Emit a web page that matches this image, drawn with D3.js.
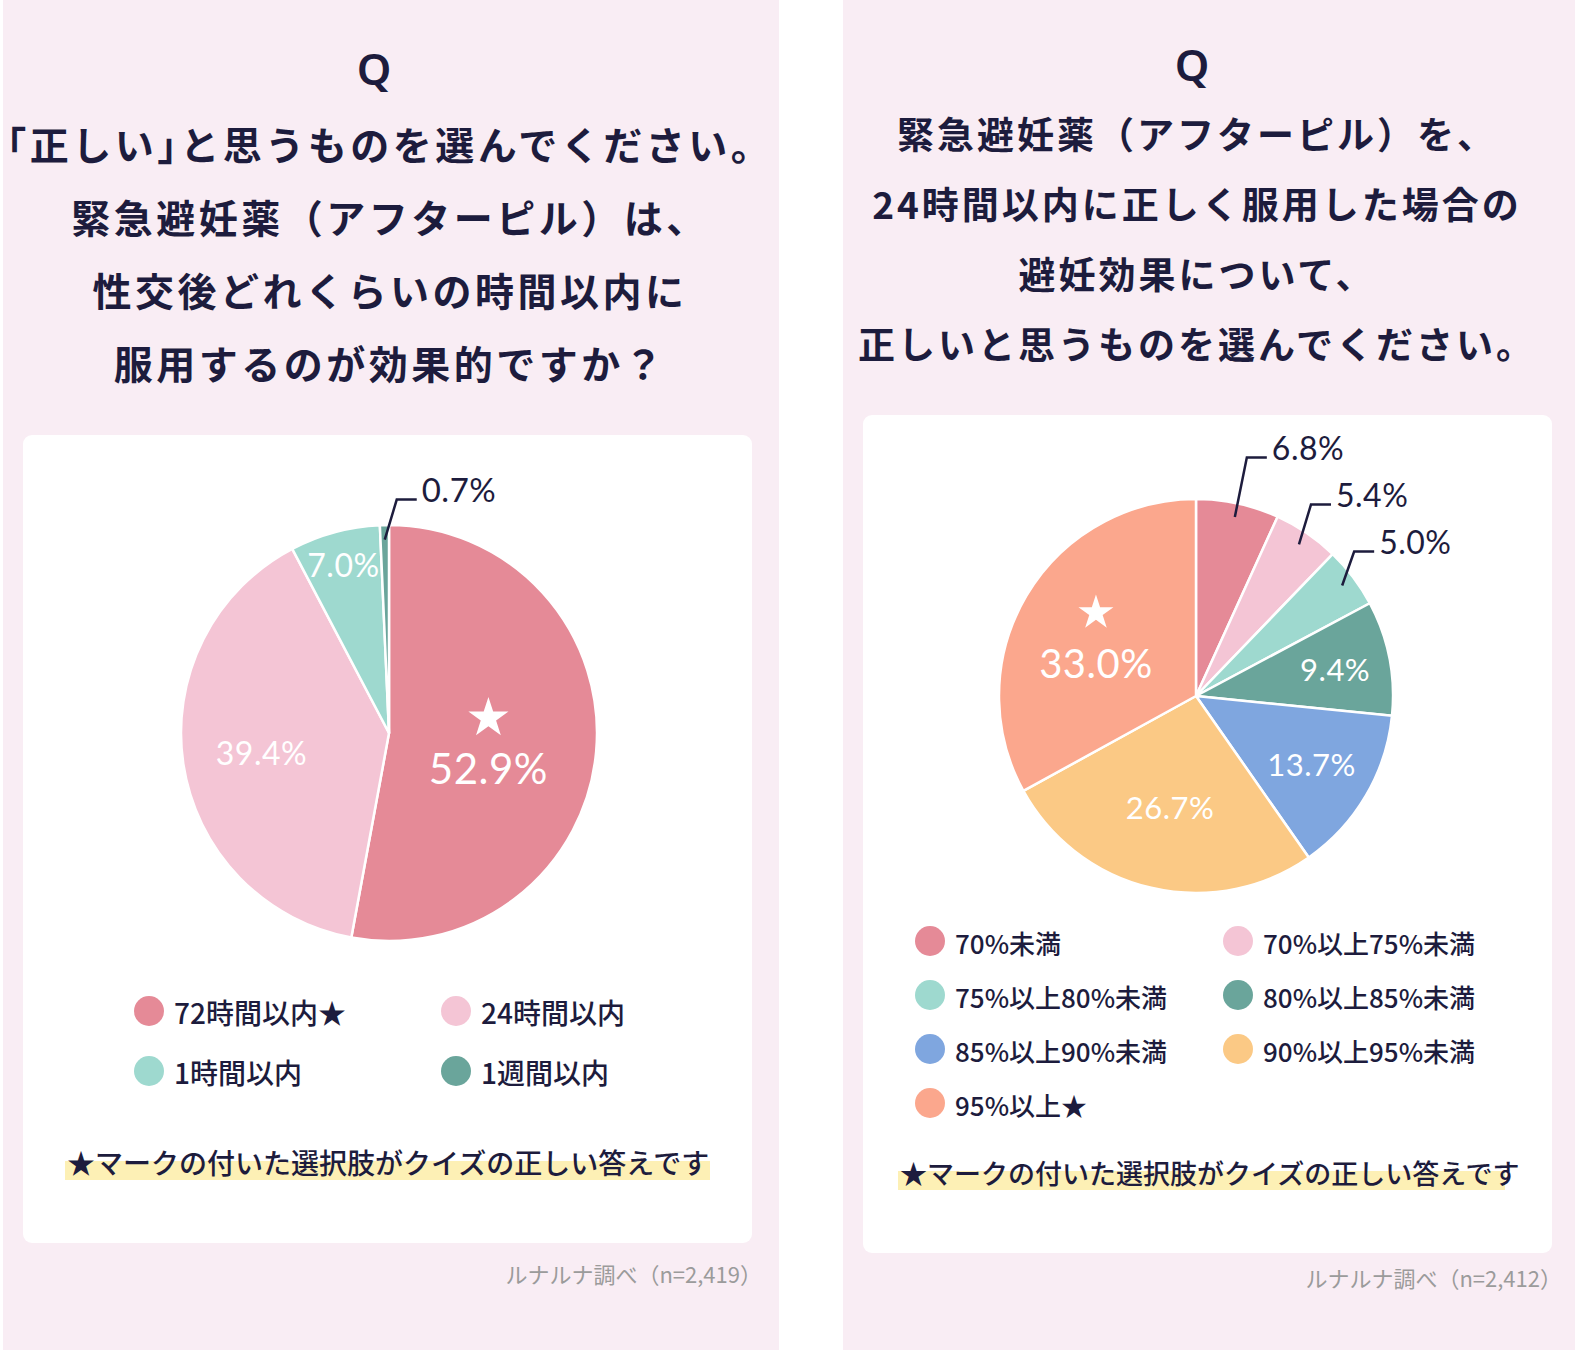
<!DOCTYPE html>
<html>
<head>
<meta charset="utf-8">
<script src="https://cdn.jsdelivr.net/npm/d3@7"></script>
<style>
  body { margin: 0; background: #fff; }
  svg { display: block; }
  .half { font-feature-settings: "halt"; }
</style>
</head>
<body>
<svg id="chart" width="1575" height="1350"></svg>
<script>
// ---- data ----
const leftTitle = [
  "「正しい」と思うものを選んでください。",
  "緊急避妊薬（アフターピル）は、",
  "性交後どれくらいの時間以内に",
  "服用するのが効果的ですか？"
];
const leftCategories = ["72時間以内", "24時間以内", "1時間以内", "1週間以内"];
const leftValues = [52.9, 39.4, 7.0, 0.7];
const leftCorrect = "72時間以内";
const leftSource = "ルナルナ調べ（n=2,419）";

const rightTitle = [
  "緊急避妊薬（アフターピル）を、",
  "24時間以内に正しく服用した場合の",
  "避妊効果について、",
  "正しいと思うものを選んでください。"
];
const rightCategories = ["70%未満", "70%以上75%未満", "75%以上80%未満", "80%以上85%未満",
                         "85%以上90%未満", "90%以上95%未満", "95%以上"];
const rightValues = [6.8, 5.4, 5.0, 9.4, 13.7, 26.7, 33.0];
const rightCorrect = "95%以上";
const rightSource = "ルナルナ調べ（n=2,412）";

const noteText = "マークの付いた選択肢がクイズの正しい答えです";

// colours
const leftColors = ["#e58a97", "#f4c5d5", "#9ed9cf", "#6aa59b"];
const rightColors = ["#e58a97", "#f4c5d5", "#9ed9cf", "#6aa59b", "#7fa6df", "#fbc985", "#fba78d"];

const navy = "#1d1c3d";
const panelBg = "#f9edf4";
const jpFont = "'Noto Sans CJK JP', 'Noto Sans', sans-serif";
const numFont = "Lato, 'Noto Sans', sans-serif";

const svg = d3.select("#chart");
svg.append("rect").attr("width", 1575).attr("height", 1350).attr("fill", "#fff");

function fmt(v) { return v.toFixed(1) + "%"; }

// split a title line so corner brackets can be set half width
function splitRuns(line) {
  let runs = [];
  for (let ch of line) {
    let half = "「」".includes(ch);
    let last = runs[runs.length - 1];
    if (last && last.half === half) last.t += ch;
    else runs.push({t: ch, half: half});
  }
  return runs;
}

function drawPanel(cfg) {
  let g = svg.append("g");

  // pink panel + white card
  g.append("rect")
    .attr("x", cfg.panel[0]).attr("y", 0)
    .attr("width", cfg.panel[1]).attr("height", 1350)
    .attr("fill", panelBg);
  g.append("rect")
    .attr("x", cfg.card[0]).attr("y", cfg.card[1])
    .attr("width", cfg.card[2]).attr("height", cfg.card[3])
    .attr("rx", 9).attr("fill", "#fff");

  // title
  g.append("text")
    .attr("x", cfg.qX).attr("y", cfg.qY)
    .attr("text-anchor", "middle").attr("dominant-baseline", "central")
    .attr("font-family", "'Noto Sans', sans-serif").attr("font-weight", 600)
    .attr("font-size", 44).attr("fill", navy)
    .text("Q");

  let tl = g.selectAll("text.title")
    .data(cfg.title)
    .enter().append("text")
    .attr("class", "title")
    .attr("x", cfg.cx)
    .attr("y", (d, i) => cfg.titleY + i * cfg.titleStep)
    .attr("text-anchor", "middle").attr("dominant-baseline", "central")
    .attr("font-family", jpFont).attr("font-weight", 700)
    .attr("font-size", cfg.titleSize).attr("letter-spacing", cfg.titleSpacing)
    .attr("fill", navy);
  tl.selectAll("tspan")
    .data(d => splitRuns(d))
    .enter().append("tspan")
    .attr("class", d => d.half ? "half" : null)
    .text(d => d.t);

  // pie
  let data = cfg.categories.map((c, i) => ({name: c, value: cfg.values[i], color: cfg.colors[i]}));
  let pie = d3.pie().value(d => d.value).sort(null);
  let arcs = pie(data);
  let r = cfg.radius;
  let arc = d3.arc().innerRadius(0).outerRadius(r);

  let pg = g.append("g").attr("transform", "translate(" + cfg.pcx + "," + cfg.pcy + ")");
  pg.selectAll("path")
    .data(arcs)
    .enter().append("path")
    .attr("d", arc)
    .attr("fill", d => d.data.color)
    .attr("stroke", "#fff")
    .attr("stroke-width", 2.5)
    .attr("stroke-linejoin", "round");

  let mid = d => (d.startAngle + d.endAngle) / 2;
  let polar = (a, rr) => [Math.sin(a) * rr, -Math.cos(a) * rr];

  // labels inside
  arcs.filter(d => d.data.value >= cfg.outsideBelow).forEach(d => {
    let f = cfg.labelRadius[d.data.name];
    let [x, y] = polar(mid(d), r * f);
    let big = d.data.name === cfg.correct;
    if (big) {
      pg.append("path")
        .attr("d", d3.symbol().type(d3.symbolStar).size(cfg.starSize)())
        .attr("transform", "translate(" + x + "," + (y - 24) + ")")
        .attr("fill", "#fff");
      y += 26;
    }
    pg.append("text")
      .attr("x", x).attr("y", y)
      .attr("text-anchor", "middle").attr("dominant-baseline", "central")
      .attr("font-family", numFont).attr("font-weight", 400)
      .attr("font-size", big ? cfg.bigSize : cfg.labelSize)
      .attr("letter-spacing", 0.5)
      .attr("fill", "#fff")
      .text(fmt(d.data.value));
  });

  // labels outside with leader lines
  let outs = arcs.filter(d => d.data.value < cfg.outsideBelow).map(d => {
    let s = polar(mid(d), r * 0.93);
    return {d: d, sx: s[0], sy: s[1], ly: s[1] - cfg.rise};
  });
  for (let i = outs.length - 2; i >= 0; i--) {
    outs[i].ly = Math.min(outs[i].ly, outs[i + 1].ly - 47);
  }
  outs.forEach(o => {
    let cx = o.sx + 12;
    pg.append("path")
      .attr("d", "M" + o.sx + "," + o.sy + "L" + cx + "," + o.ly + "L" + (cx + 20) + "," + o.ly)
      .attr("fill", "none").attr("stroke", navy).attr("stroke-width", 2.5);
    pg.append("text")
      .attr("x", cx + 25).attr("y", o.ly + 2)
      .attr("font-family", numFont).attr("font-weight", 400)
      .attr("font-size", cfg.outSize).attr("letter-spacing", 0.5)
      .attr("fill", navy)
      .text(fmt(o.d.data.value));
  });

  // legend
  let lg = g.selectAll("g.key")
    .data(data)
    .enter().append("g")
    .attr("class", "key")
    .attr("transform", (d, i) => "translate(" + (cfg.legX + (i % 2) * cfg.legColGap) + "," +
                                  (cfg.legY + Math.floor(i / 2) * cfg.legRowGap) + ")");
  lg.append("circle").attr("r", 15).attr("fill", d => d.color);
  lg.append("text")
    .attr("x", 25).attr("y", 1)
    .attr("dominant-baseline", "central")
    .attr("font-family", jpFont).attr("font-weight", 500)
    .attr("font-size", cfg.legSize).attr("fill", navy)
    .text(d => d.name + (d.name === cfg.correct ? "★" : ""));

  // note with highlight
  g.append("rect")
    .attr("x", cfg.note[0]).attr("y", cfg.note[1] - 1)
    .attr("width", cfg.note[2]).attr("height", 19)
    .attr("fill", "#fdf0b5");
  g.append("text")
    .attr("x", cfg.note[0] + 2).attr("y", cfg.note[1])
    .attr("dominant-baseline", "central")
    .attr("font-family", jpFont).attr("font-weight", 500)
    .attr("font-size", cfg.noteSize).attr("fill", navy)
    .text("★" + noteText);

  // source
  g.append("text")
    .attr("x", cfg.card[0] + cfg.card[2] + 10).attr("y", cfg.sourceY)
    .attr("text-anchor", "end").attr("dominant-baseline", "central")
    .attr("font-family", jpFont).attr("font-weight", 400)
    .attr("font-size", 22).attr("fill", "#9b9b9b")
    .text(cfg.source);
}

drawPanel({
  panel: [3, 776], card: [23, 435, 729, 808],
  qX: 374, qY: 68,
  cx: 390, titleY: 143, titleStep: 73, titleSize: 39, titleSpacing: 3.5, title: leftTitle,
  categories: leftCategories, values: leftValues, colors: leftColors, correct: leftCorrect,
  pcx: 389, pcy: 733, radius: 208, outsideBelow: 7, rise: 40,
  labelRadius: {"72時間以内": 0.48, "24時間以内": 0.62, "1時間以内": 0.84},
  starSize: 500, bigSize: 42, labelSize: 32, outSize: 33,
  legX: 149, legY: 1011, legColGap: 307, legRowGap: 60, legSize: 28,
  note: [65, 1162, 645], noteSize: 28, sourceY: 1273, source: leftSource
});

drawPanel({
  panel: [843, 732], card: [863, 415, 689, 838],
  qX: 1192, qY: 64,
  cx: 1197, titleY: 133, titleStep: 70, titleSize: 37, titleSpacing: 3, title: rightTitle,
  categories: rightCategories, values: rightValues, colors: rightColors, correct: rightCorrect,
  pcx: 1196, pcy: 696, radius: 197, outsideBelow: 7, rise: 34,
  labelRadius: {"80%以上85%未満": 0.72, "85%以上90%未満": 0.68, "90%以上95%未満": 0.58, "95%以上": 0.59},
  starSize: 380, bigSize: 40, labelSize: 31, outSize: 32,
  legX: 930, legY: 941, legColGap: 308, legRowGap: 54, legSize: 26,
  note: [898, 1172, 607], noteSize: 27, sourceY: 1277, source: rightSource
});
</script>
</body>
</html>
